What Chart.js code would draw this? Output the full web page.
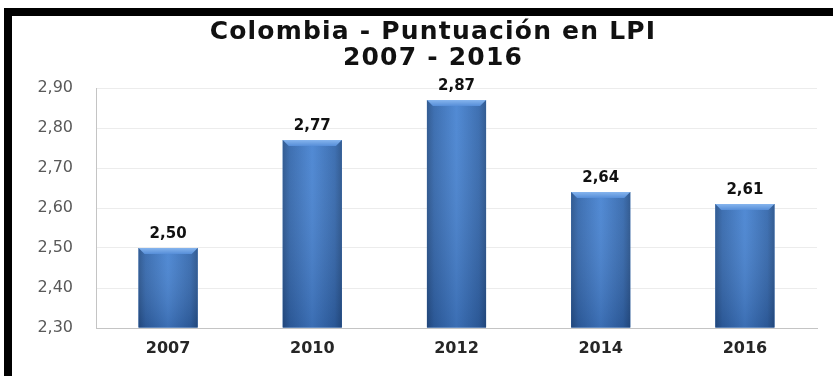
<!DOCTYPE html>
<html>
<head>
<meta charset="utf-8">
<script src="https://cdn.jsdelivr.net/npm/chart.js@4.4.1/dist/chart.umd.min.js"></script>
<style>
  html, body { margin: 0; padding: 0; background: #ffffff; overflow: hidden; }
  #frame { position: absolute; left: 4px; top: 8px; width: 900px; height: 420px;
           border-top: 8px solid #000; border-left: 8px solid #000; box-sizing: border-box; }
  #wrap { position: absolute; left: 0; top: 0; width: 833px; height: 376px; }
</style>
</head>
<body>
<div id="frame"></div>
<div id="wrap"><canvas id="c" width="833" height="376"></canvas></div>
<script>
const titleLines = ['Colombia - Puntuación en LPI', '2007 - 2016'];
const categories = ['2007', '2010', '2012', '2014', '2016'];
const lpiScores = [2.50, 2.77, 2.87, 2.64, 2.61];
const yMin = 2.30;
const yMax = 2.90;
const yStep = 0.10;

const fmt = v => v.toFixed(2).replace('.', ',');

const layoutTweaks = {
  id: 'layoutTweaks',
  afterLayout(chart) {
    chart.scales.y.left = 0;
    const t = chart.titleBlock;
    if (t && !t._spaced) {
      const orig = t.draw;
      t.draw = function () {
        const ctx = chart.ctx;
        ctx.save();
        ctx.letterSpacing = '1.2px';
        orig.apply(this, arguments);
        ctx.restore();
      };
      t._spaced = true;
    }
  }
};

const barStyle = {
  id: 'barStyle',
  afterDatasetsDraw(chart) {
    const ctx = chart.ctx;
    const meta = chart.getDatasetMeta(0);
    meta.data.forEach((bar, i) => {
      const { x, y, base, width } = bar.getProps(['x', 'y', 'base', 'width'], true);
      const l = x - width / 2, r = x + width / 2;
      ctx.save();
      const g = ctx.createLinearGradient(l, 0, r, 0);
      g.addColorStop(0, '#28538c');
      g.addColorStop(0.12, '#3468ad');
      g.addColorStop(0.5, '#4884d2');
      g.addColorStop(0.88, '#3468ad');
      g.addColorStop(1, '#28538c');
      ctx.fillStyle = g;
      ctx.fillRect(l, y, width, base - y);
      const gv = ctx.createLinearGradient(0, y, 0, base);
      gv.addColorStop(0, 'rgba(255,255,255,0.05)');
      gv.addColorStop(1, 'rgba(0,10,40,0.18)');
      ctx.fillStyle = gv;
      ctx.fillRect(l, y, width, base - y);
      const bv = 6;
      ctx.beginPath();
      ctx.moveTo(l, y);
      ctx.lineTo(r, y);
      ctx.lineTo(r - bv, y + bv);
      ctx.lineTo(l + bv, y + bv);
      ctx.closePath();
      const gb = ctx.createLinearGradient(0, y, 0, y + bv);
      gb.addColorStop(0, '#86b5ee');
      gb.addColorStop(1, '#568ed8');
      ctx.fillStyle = gb;
      ctx.fill();
      ctx.restore();

      ctx.save();
      ctx.font = 'bold 15px "DejaVu Sans"';
      ctx.fillStyle = '#111111';
      ctx.textAlign = 'center';
      ctx.textBaseline = 'middle';
      ctx.fillText(fmt(lpiScores[i]), x, y - 14);
      ctx.restore();
    });
  }
};

new Chart(document.getElementById('c'), {
  type: 'bar',
  data: {
    labels: categories,
    datasets: [{
      data: lpiScores,
      base: yMin,
      clip: 0,
      backgroundColor: '#3f77c2',
      borderWidth: 0,
      barPercentage: 0.41,
      categoryPercentage: 1.0
    }]
  },
  options: {
    responsive: false,
    animation: false,
    devicePixelRatio: 1,
    layout: { padding: { left: 49, right: 16, top: 0, bottom: 0 } },
    plugins: {
      legend: { display: false },
      tooltip: { enabled: false },
      title: {
        display: true,
        text: titleLines,
        color: '#111111',
        font: { family: '"DejaVu Sans"', size: 25, weight: 'bold', lineHeight: 1.04 },
        padding: { top: 19, bottom: 17 }
      }
    },
    scales: {
      x: {
        grid: { display: false },
        border: { display: true, color: '#c4c4c4', width: 1 },
        ticks: {
          color: '#262626',
          padding: 3,
          font: { family: '"DejaVu Sans"', size: 16, weight: 'bold' }
        },
        afterFit(scale) { scale.height = 48; }
      },
      y: {
        min: yMin,
        max: yMax,
        grid: { color: '#ececec', drawTicks: false },
        border: { display: true, color: '#c4c4c4', width: 1 },
        ticks: {
          stepSize: yStep,
          color: '#595959',
          padding: 23,
          font: { family: '"DejaVu Sans"', size: 16 },
          callback: v => fmt(v)
        },
        afterFit(scale) { scale.width = 47; }
      }
    }
  },
  plugins: [layoutTweaks, barStyle]
});
</script>
</body>
</html>
